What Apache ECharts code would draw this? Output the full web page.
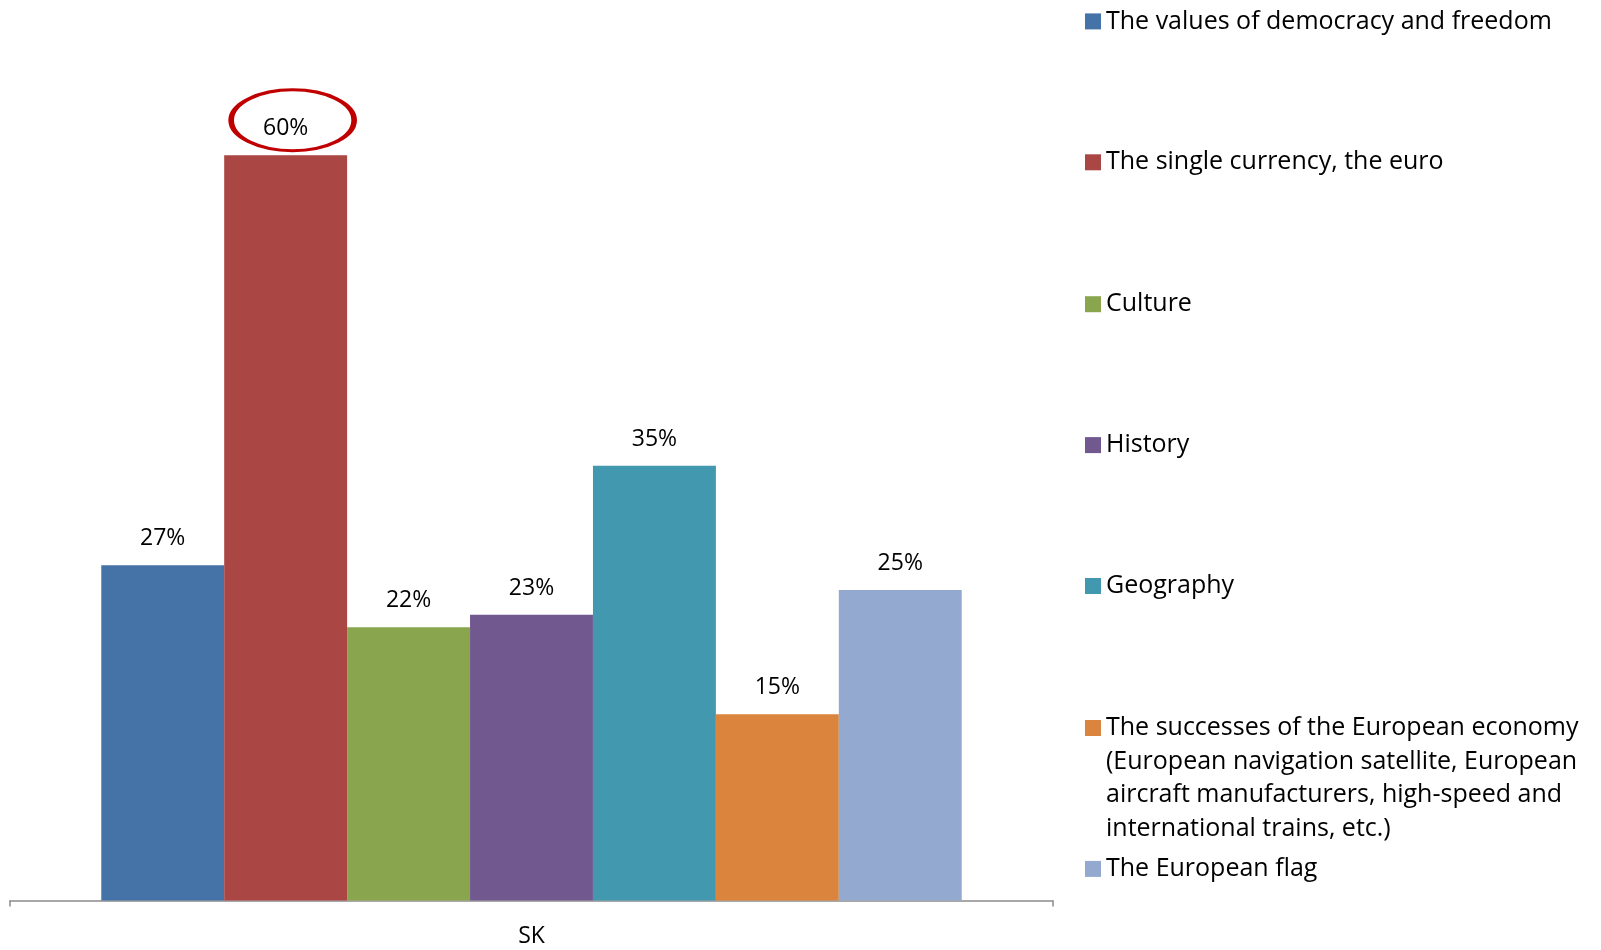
<!DOCTYPE html>
<html>
<head>
<meta charset="utf-8">
<script src="https://cdn.jsdelivr.net/npm/echarts@6/dist/echarts.min.js"></script>
<style>
  html, body { margin: 0; padding: 0; background: #fff; }
  #chart { width: 1601px; height: 950px; }
</style>
</head>
<body>
<div id="chart"></div>
<script>
var categories = ['SK']
var seriesNames = [
  'The values of democracy and freedom',
  'The single currency, the euro',
  'Culture',
  'History',
  'Geography',
  'The successes of the European economy (European navigation satellite, European aircraft manufacturers, high-speed and international trains, etc.)',
  'The European flag'
]
var seriesValues = [27, 60, 22, 23, 35, 15, 25]
var colors = ['#4572A7', '#AA4643', '#89A54E', '#71588F', '#4198AF', '#DB843D', '#93A9CF']

var FONT = 'Open Sans'
var LINE_H = 33.5

// legend item centres (y) to mimic the excel layout
var legendCentres = [21.4, 162.3, 304.2, 445.1, 586.0, 728.0, 868.9]

var chart = echarts.init(document.getElementById('chart'))

var legends = seriesNames.map(function (name, i) {
  var multi = i === 5
  return {
    orient: 'vertical',
    left: 1085,
    // the long item gets 3 blank lines in front so its first line sits by the icon
    top: multi ? legendCentres[i] - 3.5 * LINE_H : legendCentres[i] - LINE_H / 2,
    padding: 0,
    icon: 'rect',
    itemWidth: 16,
    itemHeight: 16,
    selectedMode: false,
    data: [name],
    formatter: function (n) {
      if (!multi) return n
      return '\n\n\nThe successes of the European economy\n(European navigation satellite, European\naircraft manufacturers, high-speed and\ninternational trains, etc.)'
    },
    textStyle: {
      fontFamily: FONT,
      fontSize: 25,
      color: '#000',
      lineHeight: LINE_H
    }
  }
})

var series = seriesNames.map(function (name, i) {
  var s = {
    name: name,
    type: 'bar',
    barGap: '0%',
    barCategoryGap: '17.5%',
    itemStyle: { color: colors[i] },
    label: {
      show: true,
      position: 'top',
      distance: 15,
      formatter: '{c}%',
      fontFamily: FONT,
      fontSize: 23,
      color: '#000'
    },
    data: [seriesValues[i]]
  }
  if (i === 1) {
    // red ellipse round the highest value
    s.markPoint = {
      symbol: 'circle',
      symbolSize: [123, 61],
      symbolOffset: [7, -35],
      silent: true,
      label: { show: false },
      itemStyle: { color: 'rgba(0,0,0,0)', borderColor: '#C00000', borderWidth: 4 },
      data: [{ type: 'max' }]
    }
  }
  return s
})

chart.setOption({
  animation: false,
  legend: legends,
  grid: {
    left: 10,
    right: 548,
    top: 31,
    bottom: 49.4,
    outerBoundsMode: 'none'
  },
  xAxis: {
    type: 'category',
    data: categories,
    axisLine: { lineStyle: { color: '#8c8c8c', width: 1.5 } },
    axisTick: { show: true, length: 6, lineStyle: { color: '#8c8c8c', width: 1.5 } },
    axisLabel: { fontFamily: FONT, fontSize: 23, color: '#000', margin: 24 }
  },
  yAxis: {
    type: 'value',
    min: 0,
    max: 70,
    show: false,
    splitLine: { show: false }
  },
  series: series
})
</script>
</body>
</html>
